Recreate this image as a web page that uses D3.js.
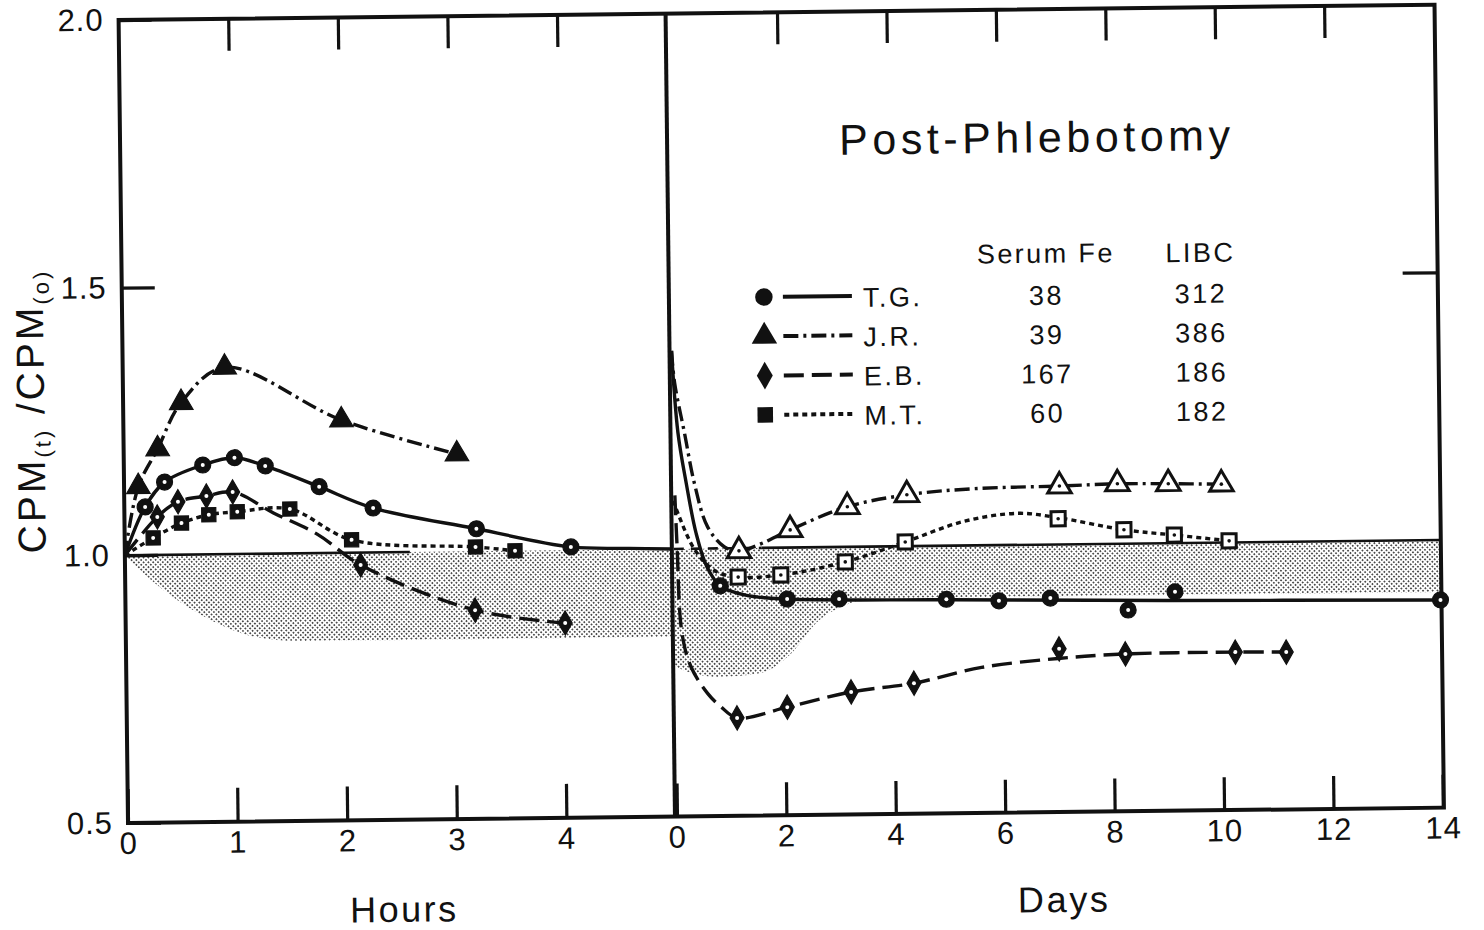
<!DOCTYPE html>
<html lang="en">
<head>
<meta charset="UTF-8">
<title>Post-Phlebotomy</title>
<script src="https://d3js.org/d3.v7.min.js"></script>
<style>
    body { margin: 0; background: #fff; }
    svg { display: block; background: #fff; font-family: 'Liberation Sans', Arial, sans-serif; color: #111; }
    .frame { fill: none; stroke: #111; stroke-width: 4; }
    .axis .tick line { stroke: #111; stroke-width: 3.2; }
    .axis text { font-size: 31px; letter-spacing: 1px; fill: #111; }
    .curve { fill: none; stroke: #111; stroke-width: 3.4; }
    .ref { fill: none; stroke: #111; stroke-width: 2.6; }
    .legend text { font-size: 27px; fill: #111; letter-spacing: 2.5px; }
</style>
</head>
<body>
<svg width="1484" height="930"></svg>
<script>
// tick values
var hourTicks = [0, 1, 2, 3, 4];
var dayTicks = [0, 2, 4, 6, 8, 10, 12, 14];
var yTicks = [0.5, 1.0, 1.5, 2.0];

// legend table
var patients = ["T.G.", "J.R.", "E.B.", "M.T."];
var serumFe = [38, 39, 167, 60];
var libc = [312, 386, 186, 182];

// hours panel: [hours, CPM(t)/CPM(o)]
var tgHoursPts = [[0.19, 1.090], [0.37, 1.136], [0.72, 1.167], [1.01, 1.180], [1.29, 1.164], [1.78, 1.124], [2.27, 1.083], [3.21, 1.042], [4.07, 1.006]];
var tgHoursLine = [[0, 1.0], [0.19, 1.090], [0.37, 1.136], [0.72, 1.167], [1.01, 1.180], [1.29, 1.164], [1.78, 1.124], [2.27, 1.083], [3.21, 1.042], [4.07, 1.006], [4.6, 1.002], [5.0, 1.0]];
var jrHoursPts = [[0.13, 1.128], [0.31, 1.198], [0.53, 1.284], [0.93, 1.349], [1.99, 1.248], [3.04, 1.182]];
var jrHoursLine = [[0, 1.0], [0.13, 1.128], [0.31, 1.198], [0.53, 1.284], [0.93, 1.349], [1.99, 1.248], [3.04, 1.182]];
var ebHoursPts = [[0.30, 1.071], [0.49, 1.099], [0.75, 1.109], [0.99, 1.116], [2.15, 0.977], [3.19, 0.890], [4.01, 0.864]];
var ebHoursLine = [[0, 1.0], [0.30, 1.071], [0.49, 1.099], [0.75, 1.109], [0.99, 1.116], [1.36, 1.076], [1.76, 1.035], [2.15, 0.977], [3.19, 0.890], [4.01, 0.864]];
var mtHoursPts = [[0.26, 1.032], [0.52, 1.059], [0.77, 1.074], [1.03, 1.079], [1.51, 1.083], [2.07, 1.024], [3.20, 1.008], [3.56, 1.0]];
var mtHoursLine = [[0, 1.0], [0.26, 1.032], [0.52, 1.059], [0.77, 1.074], [1.03, 1.079], [1.51, 1.083], [2.07, 1.024], [3.20, 1.008], [3.56, 1.0]];

// days panel
var tgDaysPts = [[0.84, 0.930], [2.06, 0.904], [3.01, 0.903], [4.97, 0.900], [5.93, 0.896], [6.87, 0.900], [8.29, 0.876], [9.15, 0.909], [14.0, 0.888]];
var tgDaysLine = [[0, 1.37], [0.1, 1.217], [0.24, 1.123], [0.41, 1.029], [0.6, 0.966], [0.84, 0.930], [1.3, 0.912], [2.06, 0.904], [5.0, 0.899], [9.0, 0.893], [14.0, 0.888]];
var jrDaysPts = [[1.19, 0.995], [2.13, 1.033], [3.18, 1.075], [4.27, 1.096], [7.06, 1.109], [8.12, 1.112], [9.05, 1.111], [10.02, 1.109]];
var jrDaysLine = [[0, 1.37], [0.05, 1.31], [0.22, 1.216], [0.39, 1.122], [0.62, 1.041], [0.92, 1.003], [1.19, 0.995], [1.6, 1.008], [2.13, 1.033], [3.18, 1.075], [4.27, 1.096], [5.5, 1.106], [7.06, 1.109], [8.12, 1.112], [9.05, 1.111], [10.02, 1.109]];
var ebDaysPts = [[1.12, 0.683], [2.04, 0.702], [3.21, 0.729], [4.36, 0.744], [7.02, 0.805], [8.23, 0.794], [10.24, 0.795], [11.17, 0.794]];
var ebDaysLine = [[0.03, 1.10], [0.06, 1.005], [0.13, 0.843], [0.29, 0.779], [0.59, 0.729], [0.83, 0.704], [1.12, 0.683], [2.04, 0.702], [3.21, 0.729], [4.36, 0.744], [5.6, 0.772], [7.0, 0.787], [8.23, 0.794], [10.24, 0.795], [11.17, 0.794]];
var mtDaysPts = [[1.17, 0.946], [1.95, 0.949], [3.13, 0.972], [4.23, 1.008], [7.03, 1.048], [8.23, 1.026], [9.15, 1.015], [10.15, 1.003]];
var mtDaysLine = [[0, 1.09], [0.37, 1.0], [0.75, 0.958], [1.17, 0.946], [1.95, 0.949], [3.13, 0.972], [4.23, 1.008], [5.3, 1.045], [6.3, 1.059], [7.03, 1.050], [8.23, 1.026], [9.15, 1.015], [10.15, 1.003]];

// shaded (normal range) bands: lower edge, top is 1.0
var hoursBandLow = [[0, 1.0], [0.2, 0.96], [0.44, 0.92], [0.78, 0.877], [1.18, 0.845], [1.6, 0.836], [5.0, 0.836]];
var daysBandLow = [[0, 0.78], [0.4, 0.765], [0.8, 0.76], [1.5, 0.765], [2.1, 0.80], [2.6, 0.86], [3.1, 0.89], [3.6, 0.903], [14.0, 0.903]];

// reference line at 1.0 (extent in x)
var hoursRef = [0, 2.6];
var daysRefDashed = [0, 1.6];
var daysRef = [1.6, 14];

// layout
var LEFT = 128, MID = 675, RIGHT = 1444, TOP = 20, BOTTOM = 823;

var svg = d3.select("svg");
var defs = svg.append("defs");

defs.append("pattern")
    .attr("id", "stipple")
    .attr("width", 3.4).attr("height", 3.4)
    .attr("patternUnits", "userSpaceOnUse")
    .attr("patternTransform", "rotate(45)")
  .append("circle")
    .attr("cx", 1.7).attr("cy", 1.7).attr("r", 0.95)
    .attr("fill", "#222");

defs.append("clipPath").attr("id", "clipL")
  .append("rect").attr("x", LEFT).attr("y", TOP).attr("width", MID - LEFT).attr("height", BOTTOM - TOP);
defs.append("clipPath").attr("id", "clipR")
  .append("rect").attr("x", MID).attr("y", TOP).attr("width", RIGHT - MID).attr("height", BOTTOM - TOP);

// the scan is slightly tilted
var g = svg.append("g").attr("transform", "rotate(-0.67," + LEFT + "," + BOTTOM + ")");

var y = d3.scaleLinear().domain([0.5, 2.0]).range([BOTTOM, TOP]);
var xh = d3.scaleLinear().domain([0, 5]).range([LEFT, 676]);
var xd = d3.scaleLinear().domain([0, 14]).range([677, 1443]);

// bands
var leftArea = d3.area().x(function(d) { return xh(d[0]); })
    .y0(function(d) { return y(d[1]); }).y1(y(1.0)).curve(d3.curveMonotoneX);
var rightArea = d3.area().x(function(d) { return xd(d[0]); })
    .y0(function(d) { return y(d[1]); }).y1(y(1.0)).curve(d3.curveMonotoneX);

g.append("path").attr("clip-path", "url(#clipL)")
    .attr("d", leftArea(hoursBandLow)).attr("fill", "url(#stipple)");
g.append("path").attr("clip-path", "url(#clipR)")
    .attr("d", rightArea(daysBandLow)).attr("fill", "url(#stipple)");

// reference lines
g.append("line").attr("class", "ref")
    .attr("x1", xh(hoursRef[0])).attr("x2", xh(hoursRef[1]))
    .attr("y1", y(1.0)).attr("y2", y(1.0));
g.append("line").attr("class", "ref")
    .attr("x1", xd(daysRef[0])).attr("x2", xd(daysRef[1]))
    .attr("y1", y(1.0)).attr("y2", y(1.0));
g.append("line").attr("class", "ref").attr("stroke-dasharray", "10,7")
    .attr("x1", xd(daysRefDashed[0])).attr("x2", xd(daysRefDashed[1]))
    .attr("y1", y(1.0)).attr("y2", y(1.0));

// frame + divider
g.append("rect").attr("class", "frame")
    .attr("x", LEFT).attr("y", TOP).attr("width", RIGHT - LEFT).attr("height", BOTTOM - TOP);
g.append("line").attr("class", "frame")
    .attr("x1", MID).attr("x2", MID).attr("y1", TOP).attr("y2", BOTTOM);

// axes
function styleAxis(sel) {
    sel.attr("class", "axis").attr("font-size", null).attr("font-family", null);
    sel.select(".domain").remove();
}
g.append("g").attr("transform", "translate(0," + BOTTOM + ")")
    .call(d3.axisBottom(xh).tickValues(hourTicks).tickSize(-34).tickPadding(9).tickFormat(d3.format("d")))
    .call(styleAxis);
g.append("g").attr("transform", "translate(0," + BOTTOM + ")")
    .call(d3.axisBottom(xd).tickValues(dayTicks).tickSize(-33).tickPadding(9).tickFormat(d3.format("d")))
    .call(styleAxis);
g.append("g").attr("transform", "translate(0," + TOP + ")")
    .call(d3.axisTop(xh).tickValues(hourTicks.slice(1)).tickSize(-32).tickFormat(""))
    .call(styleAxis);
g.append("g").attr("transform", "translate(0," + TOP + ")")
    .call(d3.axisTop(xd).tickValues(dayTicks.slice(1, -1)).tickSize(-32).tickFormat(""))
    .call(styleAxis);
g.append("g").attr("transform", "translate(" + LEFT + ",0)")
    .call(d3.axisLeft(y).tickValues(yTicks).tickSize(-33).tickPadding(15).tickFormat(d3.format(".1f")))
    .call(styleAxis);
g.append("g").attr("transform", "translate(" + RIGHT + ",0)")
    .call(d3.axisRight(y).tickValues([1.5]).tickSize(-35).tickFormat(""))
    .call(styleAxis);

// series
var series = [
    {hPts: tgHoursPts, hLine: tgHoursLine, dPts: tgDaysPts, dLine: tgDaysLine},
    {hPts: jrHoursPts, hLine: jrHoursLine, dPts: jrDaysPts, dLine: jrDaysLine},
    {hPts: ebHoursPts, hLine: ebHoursLine, dPts: ebDaysPts, dLine: ebDaysLine},
    {hPts: mtHoursPts, hLine: mtHoursLine, dPts: mtDaysPts, dLine: mtDaysLine}
];
var shapes = [d3.symbolCircle, d3.symbolTriangle, d3.symbolDiamond, d3.symbolSquare];
var sizes = [200, 240, 170, 200];
var dashes = [null, "15,5,3,5", "20,8", "5,4"];
var leftStyle = ["speck", "solid", "speck", "speck"];
var rightStyle = ["speck", "open", "speck", "open"];

var lineH = d3.line().x(function(d) { return xh(d[0]); }).y(function(d) { return y(d[1]); })
    .curve(d3.curveCatmullRom.alpha(0.5));
var lineD = d3.line().x(function(d) { return xd(d[0]); }).y(function(d) { return y(d[1]); })
    .curve(d3.curveCatmullRom.alpha(0.5));

function markers(parent, pts, xs, i, style) {
    var sym = d3.symbol().type(shapes[i]).size(sizes[i]);
    var m = parent.selectAll(null).data(pts).enter().append("g")
        .attr("transform", function(d) { return "translate(" + xs(d[0]) + "," + y(d[1]) + ")"; });
    m.append("path").attr("d", sym)
        .attr("fill", style === "open" ? "#fff" : "#111")
        .attr("stroke", "#111")
        .attr("stroke-width", style === "open" ? 3 : 1.2);
    if (style === "speck") {
        m.append("circle").attr("r", 2).attr("fill", "#fff");
    } else if (style === "open") {
        m.append("circle").attr("r", 1.8).attr("fill", "#111");
    }
}

var gl = g.append("g").attr("clip-path", "url(#clipL)");
var gr = g.append("g").attr("clip-path", "url(#clipR)");
series.forEach(function(s, i) {
    gl.append("path").attr("class", "curve").attr("d", lineH(s.hLine))
        .attr("stroke-dasharray", dashes[i]);
    gr.append("path").attr("class", "curve").attr("d", lineD(s.dLine))
        .attr("stroke-dasharray", dashes[i]);
});
series.forEach(function(s, i) {
    markers(g, s.hPts, xh, i, leftStyle[i]);
    markers(g, s.dPts, xd, i, rightStyle[i]);
});

// title
g.append("text")
    .attr("x", 847).attr("y", 163)
    .attr("font-size", 43).attr("fill", "#111")
    .attr("textLength", 391).attr("lengthAdjust", "spacing")
    .text("Post-Phlebotomy");

// legend table
var leg = g.append("g").attr("class", "legend");
leg.append("text").attr("x", 1052.5).attr("y", 273.5).attr("text-anchor", "middle")
    .attr("textLength", 138).attr("lengthAdjust", "spacing").text("Serum Fe");
leg.append("text").attr("x", 1207).attr("y", 274.5).attr("text-anchor", "middle")
    .text("LIBC");

var legSizes = [240, 280, 220, 240];
patients.forEach(function(p, i) {
    var by = 315.5 + i * 39.3;
    var cy = by - 11;
    leg.append("path")
        .attr("d", d3.symbol().type(shapes[i]).size(legSizes[i]))
        .attr("transform", "translate(770," + cy + ")")
        .attr("fill", "#111");
    leg.append("line")
        .attr("x1", 789).attr("x2", 858).attr("y1", cy).attr("y2", cy)
        .attr("stroke", "#111").attr("stroke-width", 4)
        .attr("stroke-dasharray", dashes[i]);
    leg.append("text").attr("x", 869).attr("y", by).text(p);
    leg.append("text").attr("x", 1052.5).attr("y", by).attr("text-anchor", "middle").text(serumFe[i]);
    leg.append("text").attr("x", 1207).attr("y", by).attr("text-anchor", "middle").text(libc[i]);
});

// axis titles
g.append("text").attr("x", 402).attr("y", 925).attr("text-anchor", "middle")
    .attr("font-size", 36).attr("fill", "#111")
    .attr("textLength", 106).attr("lengthAdjust", "spacing").text("Hours");
g.append("text").attr("x", 1062).attr("y", 923).attr("text-anchor", "middle")
    .attr("font-size", 36).attr("fill", "#111")
    .attr("textLength", 90).attr("lengthAdjust", "spacing").text("Days");

var yl = g.append("text")
    .attr("transform", "translate(49,410) rotate(-90)")
    .attr("text-anchor", "middle")
    .attr("fill", "#111")
    .style("letter-spacing", "3px");
yl.append("tspan").attr("font-size", 39).text("CPM");
yl.append("tspan").attr("font-size", 22).attr("dy", 6).text("(t)");
yl.append("tspan").attr("font-size", 39).attr("dy", -6).text(" /CPM");
yl.append("tspan").attr("font-size", 22).attr("dy", 6).text("(o)");
</script>
</body>
</html>
